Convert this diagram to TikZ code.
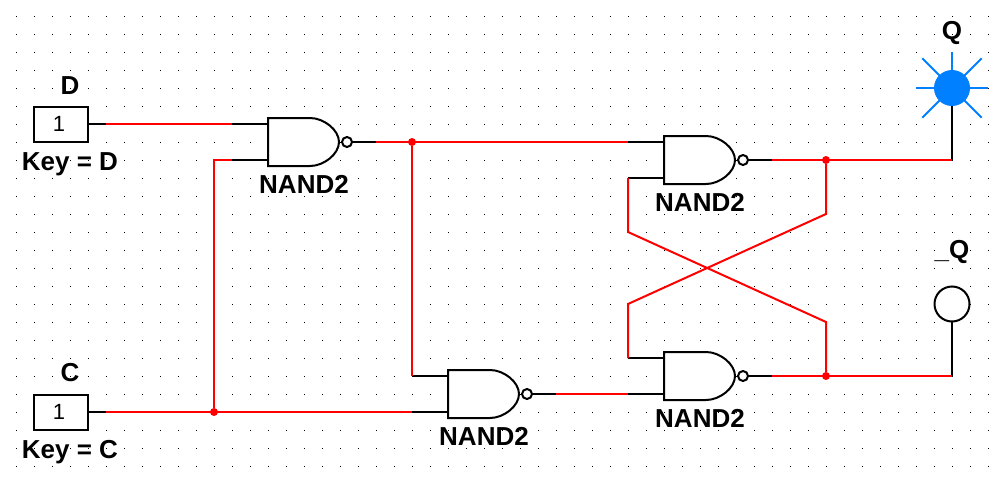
\documentclass[tikz,border=0pt]{standalone}
\usepackage{fontspec}
\setmainfont{Liberation Sans}
\usetikzlibrary{positioning}
\definecolor{wireRed}{RGB}{255,0,0}
\definecolor{lampBlue}{RGB}{0,128,255}

\begin{document}
\begin{tikzpicture}[
        x=1pt, y=-1pt,
        gate/.style={minimum height=48pt, minimum width=84pt, inner sep=0pt, outer sep=0pt, anchor=west},
        gatebody/.style={draw, fill=white, line width=2pt},
        source/.style={draw, fill=white, line width=2pt, minimum width=54pt, minimum height=35pt,
                       inner sep=0pt, outer sep=0pt, font=\fontsize{22}{22}\selectfont},
        lbl/.style={inner sep=0pt, font=\fontsize{26}{26}\selectfont\bfseries},
        stub/.style={line width=2pt},
        wire/.style={line width=2pt, draw=wireRed},
        joint/.style={circle, fill=wireRed, inner sep=0pt, minimum size=8pt},
        ray/.style={line width=2pt, draw=lampBlue},
        node distance=6pt
    ]
        \useasboundingbox (0,0) rectangle (1005,482);
        \foreach \i in {0,...,54}
            \foreach \j in {0,...,25}
                \fill (16+18*\i,16+18*\j) rectangle ++(1,1);

        \node[gate] (nandD) at (268,142) {};
        \node[gate] (nandC) at (448,394) {};
        \node[gate] (nandQ) at (664,160) {};
        \node[gate] (nandN) at (664,376) {};
        \foreach \g in {nandD,nandC,nandQ,nandN} {
            \draw[gatebody] (\g.south west) -- (\g.north west) -- ++(42,0)
                .. controls +(14,0) and +(0,-12) .. ++(29,24)
                .. controls +(0,12) and +(14,0) .. ++(-29,24) -- cycle;
            \draw[gatebody] (\g.east) ++(-5,0) circle[radius=5pt];
        }
        \node[lbl, below=9pt of nandD.south, xshift=-6pt] (lblD) {NAND2};
        \node[lbl, below=9pt of nandC.south, xshift=-6pt] (lblC) {NAND2};
        \node[lbl, below=9pt of nandQ.south, xshift=-6pt] (lblQ) {NAND2};
        \node[lbl, below=9pt of nandN.south, xshift=-6pt] (lblN) {NAND2};

        \node[source] (keyD) at (61,124) {\hspace{-4pt}1};
        \node[source] (keyC) at (61,412) {\hspace{-4pt}1};
        \node[lbl, above=12pt of keyD, xshift=9pt] (nameD) {D};
        \node[lbl, above=13pt of keyC, xshift=9pt] (nameC) {C};
        \node[lbl, below=11pt of keyD, xshift=9pt] (textD) {Key = D};
        \node[lbl, below=11pt of keyC, xshift=9pt] (textC) {Key = C};

        \foreach \a in {0,90,180,270}
            \draw[ray] (952,88) -- ++(\a:36);
        \foreach \a in {45,135,225,315}
            \draw[ray] (952,88) -- ++(\a:42);
        \node[circle, fill=lampBlue, minimum size=36pt, inner sep=0pt, outer sep=0pt] (lampQ) at (952,88) {};
        \node[circle, draw, fill=white, line width=2pt, minimum size=35pt, inner sep=0pt, outer sep=0pt] (lampN) at (952,304) {};
        \node[lbl] (nameQ) at (952,33) {Q};
        \node[lbl] (nameN) at (952,252) {\_Q};

        \draw[stub] (keyD.east) -- ++(18,0) coordinate (outD);
        \draw[stub] (keyC.east) -- ++(18,0) coordinate (outC);
        \draw[stub] ([yshift=18pt]nandD.west) -- ++(-36,0) coordinate (inDa);
        \draw[stub] ([yshift=-18pt]nandD.west) -- ++(-36,0) coordinate (inDb);
        \draw[stub] ([yshift=18pt]nandC.west) -- ++(-36,0) coordinate (inCa);
        \draw[stub] ([yshift=-18pt]nandC.west) -- ++(-36,0) coordinate (inCb);
        \draw[stub] ([yshift=18pt]nandQ.west) -- ++(-36,0) coordinate (inQa);
        \draw[stub] ([yshift=-18pt]nandQ.west) -- ++(-36,0) coordinate (inQb);
        \draw[stub] ([yshift=18pt]nandN.west) -- ++(-36,0) coordinate (inNa);
        \draw[stub] ([yshift=-18pt]nandN.west) -- ++(-36,0) coordinate (inNb);
        \draw[stub] (nandD.east) -- ++(24,0) coordinate (outG);
        \draw[stub] (nandC.east) -- ++(24,0) coordinate (outH);
        \draw[stub] (nandQ.east) -- ++(24,0) coordinate (outQ);
        \draw[stub] (nandN.east) -- ++(24,0) coordinate (outN);
        \coordinate (cornerQ) at (952,160);
        \coordinate (cornerN) at (952,376);
        \draw[stub] (lampQ) -- (cornerQ);
        \draw[stub] (lampN) -- (cornerN);

        \node[joint] (jointC) at (214,412) {};
        \node[joint] (jointG) at (412,142) {};
        \node[joint] (jointQ) at (826,160) {};
        \node[joint] (jointN) at (826,376) {};

        \draw[wire] (outD) -- (inDa);
        \draw[wire] (outC) -- (inCb);
        \draw[wire] (jointC) |- (inDb);
        \draw[wire] (outG) -- (inQa);
        \draw[wire] (jointG) |- (inCa);
        \draw[wire] (outH) -- (inNb);
        \draw[wire] (outQ) -- (cornerQ);
        \draw[wire] (outN) -- (cornerN);
        \draw[wire] (inQb) -- (628,232) -- (826,322) -- (jointN);
        \draw[wire] (inNa) -- (628,304) -- (826,214) -- (jointQ);
    \end{tikzpicture}
\end{document}
